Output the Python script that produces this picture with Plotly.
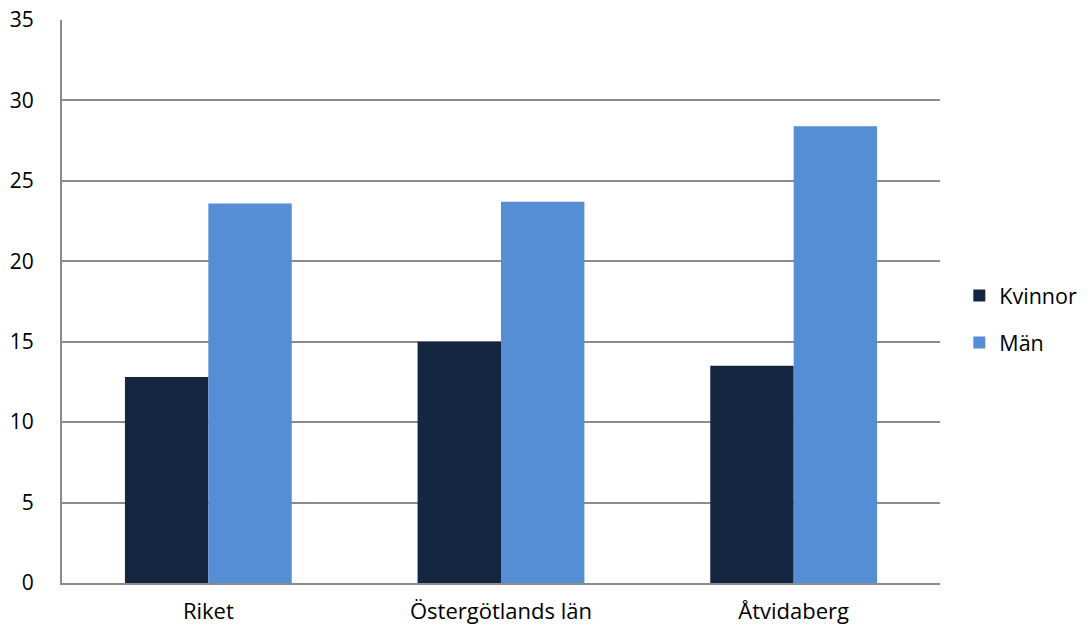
import plotly.graph_objects as go

categories = ["Riket", "Östergötlands län", "Åtvidaberg"]
kvinnor = [12.8, 15.0, 13.5]
man = [23.6, 23.7, 28.4]
y_ticks = [0, 5, 10, 15, 20, 25, 30, 35]

fig = go.Figure()
fig.add_trace(go.Bar(name="Kvinnor", x=categories, y=kvinnor, marker_color="#142640",
                     marker_line_width=0, legendgroup="k"))
fig.add_trace(go.Bar(name="Män", x=categories, y=man, marker_color="#558ed5",
                     marker_line_width=0, legendgroup="m"))

fam = "Open Sans"
yfont = dict(family=fam, size=21, color="#000000")
xfont = dict(family=fam, size=22, color="#000000")
fig.update_layout(
    width=1092, height=630,
    margin=dict(l=62, r=152, t=20, b=47, autoexpand=False),
    barmode="group", bargap=0.43, bargroupgap=0,
    plot_bgcolor="white", paper_bgcolor="white",
    font=yfont,
    showlegend=True,
    legend=dict(x=1.022, y=0.469, xanchor="left", yanchor="middle",
                font=dict(family=fam, size=21.5, color="#000000"),
                traceorder="grouped", tracegroupgap=16, itemsizing="constant"),
    xaxis=dict(showgrid=False, showline=True, linecolor="#8c8c8c", linewidth=2,
               ticks="", tickfont=xfont, ticklabelstandoff=8, automargin=False,
               ticklabeloverflow="allow"),
    yaxis=dict(range=[0, 35], tickvals=y_ticks, showgrid=True, gridcolor="#8c8c8c", gridwidth=1.5,
               showline=True, linecolor="#8c8c8c", linewidth=2, ticks="", zeroline=False,
               tickfont=yfont, ticklabelstandoff=22, automargin=False,
               ticklabeloverflow="allow"),
)
fig.write_html("out.html", config={"displayModeBar": False},
               post_script="document.body.style.margin='0';")
